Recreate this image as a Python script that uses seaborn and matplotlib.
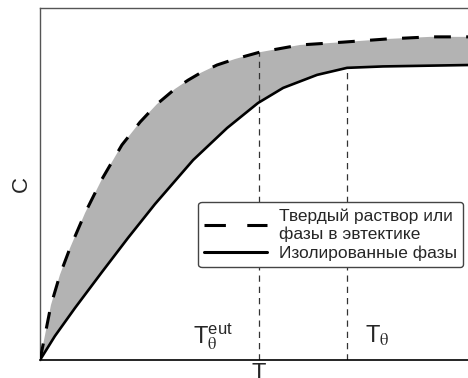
import numpy as np
import pandas as pd
import matplotlib
matplotlib.use("Agg")
import matplotlib.pyplot as plt
from matplotlib.lines import Line2D
import seaborn as sns

# --- data (x in units of T, y normalised) ---
upper_x = [0.000, 0.023, 0.050, 0.091, 0.137, 0.206, 0.283, 0.374, 0.457, 0.534,
           0.616, 0.676, 0.731, 0.808, 0.890, 1.000, 1.187, 1.384, 1.584, 1.781, 1.954]
upper_y = [0.000, 0.071, 0.156, 0.242, 0.318, 0.418, 0.514, 0.611, 0.676, 0.727,
           0.770, 0.795, 0.815, 0.838, 0.855, 0.874, 0.895, 0.903, 0.912, 0.918, 0.918]
lower_x = [0.000, 0.068, 0.160, 0.283, 0.402, 0.525, 0.699, 0.854, 0.995, 1.110,
           1.265, 1.402, 1.566, 1.954]
lower_y = [0.000, 0.068, 0.148, 0.250, 0.347, 0.443, 0.568, 0.659, 0.730, 0.773,
           0.810, 0.830, 0.834, 0.838]
vline_x = [1.0, 1.4]
vline_top = [0.874, 0.830]
xtick_pos = [1.0]
xtick_labels = ["T"]
label_upper = "Твердый раствор или\nфазы в эвтектике"
label_lower = "Изолированные фазы"
ann_x = [0.70, 1.484]
ann_y = [0.048, 0.048]
ann_text = [r"T$_{\mathrm{\theta}}^{\mathregular{eut}}$", r"T$_{\mathrm{\theta}}$"]

sns.set_style("white")
plt.rcParams["font.family"] = ["Liberation Sans", "DejaVu Sans"]
plt.rcParams["mathtext.fontset"] = "stix"

fig = plt.figure(figsize=(4.68, 3.78), dpi=100)
ax = fig.add_axes([40/468, 18/378, 1 - 40/468, (360-8)/378])

# shaded band between curves
poly_x = list(upper_x) + list(lower_x[::-1])
poly_y = list(upper_y) + list(lower_y[::-1])
ax.fill(poly_x, poly_y, color="#b3b3b3", lw=0, zorder=1)

df_u = pd.DataFrame({"x": upper_x, "y": upper_y})
df_l = pd.DataFrame({"x": lower_x, "y": lower_y})
sns.lineplot(data=df_u, x="x", y="y", ax=ax, color="black", lw=2.2, sort=False,
             estimator=None, zorder=3)
ax.lines[-1].set_dashes((5.5, 5))
ax.lines[-1].set_solid_joinstyle("round")
sns.lineplot(data=df_l, x="x", y="y", ax=ax, color="black", lw=1.9, sort=False,
             estimator=None, zorder=3)
ax.lines[-1].set_solid_joinstyle("round")

ax.vlines(vline_x, 0, vline_top, colors="#333333", linestyles=(0, (5, 4)), lw=0.9, zorder=2)

for tx, ty, tt in zip(ann_x, ann_y, ann_text):
    ax.text(tx, ty, tt, fontsize=17, ha="left", va="baseline")

ax.set_xlim(0, 1.954)
ax.set_ylim(0, 1.0)
ax.set_xticks(xtick_pos)
ax.set_xticklabels(xtick_labels, fontsize=17)
ax.set_yticks([])
ax.tick_params(axis="x", length=0, pad=2)
ax.set_xlabel("")
ax.set_ylabel("C", fontsize=16, labelpad=6)

for s in ["left", "top"]:
    ax.spines[s].set_color("#555555")
    ax.spines[s].set_linewidth(1.0)
ax.spines["bottom"].set_color("black")
ax.spines["bottom"].set_linewidth(1.2)
ax.spines["right"].set_visible(False)

handles = [Line2D([], [], color="black", lw=2.2, dashes=(7, 7)),
           Line2D([], [], color="black", lw=2.2)]
leg = ax.legend(handles, [label_upper, label_lower], loc="upper right",
                bbox_to_anchor=(463/468, (378-202)/378), bbox_transform=fig.transFigure,
                fontsize=12.5, handlelength=3.6, handletextpad=0.7, labelspacing=0.25,
                borderpad=0.35, borderaxespad=0, fancybox=True, framealpha=1,
                edgecolor="#444444")
leg.get_frame().set_linewidth(1.0)

fig.savefig("out.png", dpi=100)
